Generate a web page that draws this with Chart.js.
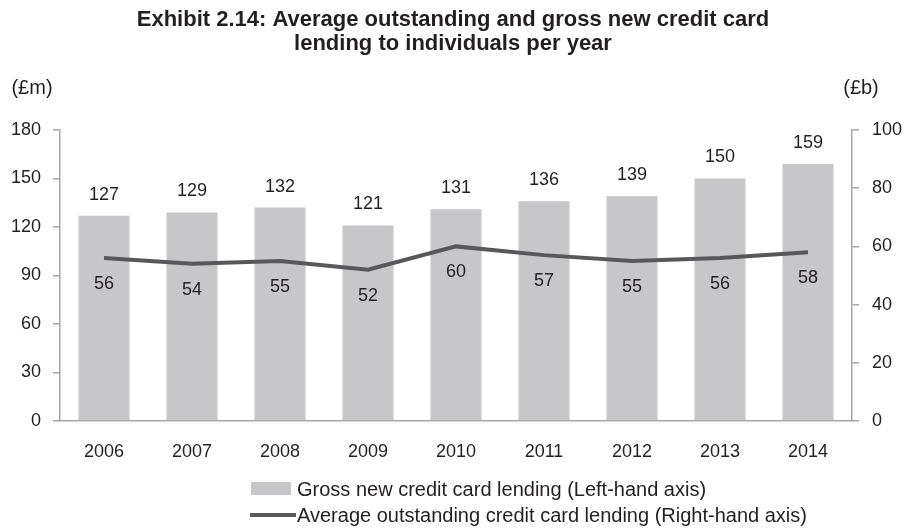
<!DOCTYPE html>
<html>
<head>
<meta charset="utf-8">
<script src="https://cdn.jsdelivr.net/npm/chart.js@4/dist/chart.umd.min.js"></script>
<style>
  html, body { margin: 0; padding: 0; background: #fff; }
  #wrap { width: 906px; height: 529px; }
</style>
</head>
<body>
<div id="wrap"><canvas id="chart" width="906" height="529"></canvas></div>
<script>
const years = ['2006', '2007', '2008', '2009', '2010', '2011', '2012', '2013', '2014'];
const grossNewLending = [127, 129, 132, 121, 131, 136, 139, 150, 159];      // £m, left axis
const averageOutstanding = [56, 54, 55, 52, 60, 57, 55, 56, 58];           // £b, right axis
const leftTicks = [0, 30, 60, 90, 120, 150, 180];
const rightTicks = [0, 20, 40, 60, 80, 100];

const titleLines = ['Exhibit 2.14: Average outstanding and gross new credit card', 'lending to individuals per year'];
const barLabel = 'Gross new credit card lending (Left-hand axis)';
const lineLabel = 'Average outstanding credit card lending (Right-hand axis)';

const FONT = "'Liberation Sans', Arial, sans-serif";
const TEXT = '#231f20';
const AXIS = '#a7a7a9';
const BAR = '#c7c7c9';
const LINE = '#58585a';

// value labels: above the bars, below the line points
const valueLabels = {
  id: 'valueLabels',
  afterDatasetsDraw(chart) {
    const ctx = chart.ctx;
    ctx.save();
    ctx.font = '18px ' + FONT;
    ctx.fillStyle = TEXT;
    ctx.textAlign = 'center';
    ctx.textBaseline = 'middle';
    chart.getDatasetMeta(0).data.forEach((bar, i) => {
      ctx.fillText(grossNewLending[i], bar.x, bar.y - 21);
    });
    chart.getDatasetMeta(1).data.forEach((pt, i) => {
      ctx.fillText(averageOutstanding[i], pt.x, pt.y + 26);
    });
    ctx.restore();
  }
};

// unit captions and the two-row legend under the axis
const extras = {
  id: 'extras',
  afterDraw(chart) {
    const ctx = chart.ctx;
    const area = chart.chartArea;
    ctx.save();
    ctx.font = '20px ' + FONT;
    ctx.fillStyle = TEXT;
    ctx.textBaseline = 'middle';
    ctx.textAlign = 'center';
    ctx.fillText('(£m)', 32, 88);
    ctx.fillText('(£b)', area.right + 9, 88);

    const lx = 251;
    const row1 = area.bottom + 68;
    const row2 = area.bottom + 94;
    ctx.fillStyle = BAR;
    ctx.fillRect(lx, row1 - 7, 40, 13);
    ctx.strokeStyle = LINE;
    ctx.lineWidth = 4;
    ctx.beginPath();
    ctx.moveTo(lx - 1, row2);
    ctx.lineTo(lx + 45, row2);
    ctx.stroke();
    ctx.fillStyle = TEXT;
    ctx.textAlign = 'left';
    ctx.fillText(barLabel, lx + 46, row1 + 1);
    ctx.fillText(lineLabel, lx + 46, row2 + 1);
    ctx.restore();
  }
};

new Chart(document.getElementById('chart'), {
  type: 'bar',
  data: {
    labels: years,
    datasets: [
      {
        type: 'bar',
        label: barLabel,
        data: grossNewLending,
        backgroundColor: BAR,
        borderWidth: 0,
        barPercentage: 0.58,
        categoryPercentage: 1.0,
        yAxisID: 'y',
        order: 2
      },
      {
        type: 'line',
        label: lineLabel,
        data: averageOutstanding,
        borderColor: LINE,
        borderWidth: 4,
        pointRadius: 0,
        tension: 0,
        fill: false,
        yAxisID: 'y1',
        order: 1
      }
    ]
  },
  options: {
    responsive: false,
    animation: false,
    layout: { padding: 0 },
    plugins: {
      legend: { display: false },
      tooltip: { enabled: false },
      title: {
        display: true,
        text: titleLines,
        color: TEXT,
        font: { family: FONT, size: 22, weight: 'bold', lineHeight: '24px' },
        padding: { top: 8, bottom: 74 }
      }
    },
    scales: {
      x: {
        grid: { display: false },
        border: { display: true, color: AXIS, width: 1.5 },
        ticks: { color: TEXT, font: { family: FONT, size: 18 }, padding: 12, maxRotation: 0 },
        afterFit(scale) { scale.height = 108; }
      },
      y: {
        position: 'left',
        min: 0,
        max: 180,
        afterBuildTicks(scale) { scale.ticks = leftTicks.map(v => ({ value: v })); },
        grid: { drawOnChartArea: false, drawTicks: true, tickLength: 7, color: AXIS, lineWidth: 1.5 },
        border: { display: true, color: AXIS, width: 1.5 },
        ticks: { color: TEXT, font: { family: FONT, size: 18 }, padding: 12 },
        afterFit(scale) { scale.width = 60; }
      },
      y1: {
        position: 'right',
        min: 0,
        max: 100,
        afterBuildTicks(scale) { scale.ticks = rightTicks.map(v => ({ value: v })); },
        grid: { drawOnChartArea: false, drawTicks: true, tickLength: 7, color: AXIS, lineWidth: 1.5 },
        border: { display: true, color: AXIS, width: 1.5 },
        ticks: { color: TEXT, font: { family: FONT, size: 18 }, padding: 13 },
        afterFit(scale) { scale.width = 54; }
      }
    }
  },
  plugins: [valueLabels, extras]
});
</script>
</body>
</html>
